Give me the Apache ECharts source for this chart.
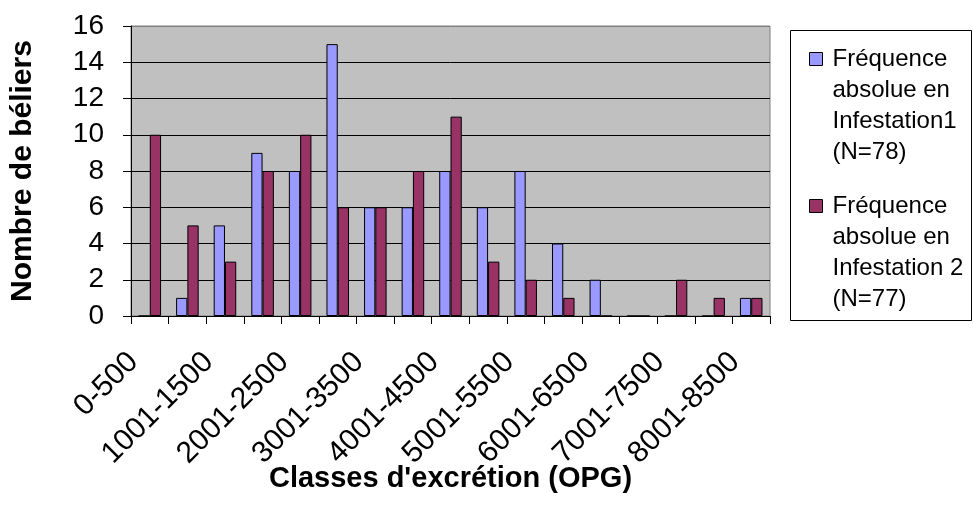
<!DOCTYPE html>
<html>
<head>
<meta charset="utf-8">
<script src="https://cdn.jsdelivr.net/npm/echarts@6/dist/echarts.min.js"></script>
<style>
  html, body { margin: 0; padding: 0; background: #fff; }
  #chart { width: 973px; height: 522px; }
</style>
</head>
<body>
<div id="chart"></div>
<script>
// classes d'excrétion (OPG)
const categories = [
  '0-500', '501-1000', '1001-1500', '1501-2000', '2001-2500', '2501-3000',
  '3001-3500', '3501-4000', '4001-4500', '4501-5000', '5001-5500', '5501-6000',
  '6001-6500', '6501-7000', '7001-7500', '7501-8000', '8001-8500'
]
const infestation1 = [0, 1, 5, 9, 8, 15, 6, 6, 8, 6, 8, 4, 2, 0, 0, 0, 1]
const infestation2 = [10, 5, 3, 8, 10, 6, 6, 8, 11, 3, 2, 1, 0, 0, 2, 1, 1]
const seriesNames = [
  'Fréquence\nabsolue en\nInfestation1\n(N=78)',
  'Fréquence\nabsolue en\nInfestation 2\n(N=77)'
]

const FONT = "'Liberation Sans', Arial, sans-serif"
const BLUE = '#9999ff'
const PLUM = '#993366'
const PLOT_BG = '#c0c0c0'
const BORDER_GRAY = '#808080'

// legend text is centred on the icon, so 3 blank lines on top put
// the first line level with the square
const legendBase = {
  orient: 'vertical', left: 809, padding: 0, itemWidth: 13, itemHeight: 13,
  icon: 'rect', selectedMode: false,
  formatter: (name) => '\n\n\n' + name,
  textStyle: { fontFamily: FONT, fontSize: 24, color: '#000', lineHeight: 31, padding: [0, 0, 0, 5] },
  itemStyle: { borderColor: '#000', borderWidth: 1 },
}

const chart = echarts.init(document.getElementById('chart'))
chart.setOption({
  animation: false,
  textStyle: { fontFamily: FONT },
  graphic: [{
    type: 'rect', z: -1,
    shape: { x: 790.5, y: 30.5, width: 181, height: 290 },
    style: { fill: '#fff', stroke: '#000', lineWidth: 1 },
  }],
  legend: [
    { ...legendBase, top: -49.5, data: [seriesNames[0]] },
    { ...legendBase, top: 97.5, data: [seriesNames[1]] },
  ],
  grid: {
    left: 129.5, top: 26, right: 203, bottom: 206,
    show: true, backgroundColor: PLOT_BG, borderColor: BORDER_GRAY, borderWidth: 1,
  },
  xAxis: {
    type: 'category',
    data: categories,
    name: "Classes d'excrétion (OPG)",
    nameLocation: 'middle',
    nameGap: 148,
    nameMoveOverlap: false,
    nameTextStyle: { fontFamily: FONT, fontSize: 29, fontWeight: 'bold', color: '#000' },
    axisLine: { lineStyle: { color: '#000', width: 1 } },
    axisTick: { show: true, interval: 0, length: 8, lineStyle: { color: '#000' } },
    axisLabel: {
      interval: 1, rotate: 45, margin: 25, padding: [0, 23, 0, 0],
      fontFamily: FONT, fontSize: 30, color: '#000',
    },
  },
  yAxis: {
    type: 'value',
    min: 0, max: 16, interval: 2,
    name: 'Nombre de béliers',
    nameLocation: 'middle',
    nameGap: 93,
    nameTextStyle: { fontFamily: FONT, fontSize: 30, fontWeight: 'bold', color: '#000' },
    axisLine: { show: true, lineStyle: { color: '#000', width: 1 } },
    axisTick: { show: true, length: 8, lineStyle: { color: '#000' } },
    axisLabel: { margin: 27, fontFamily: FONT, fontSize: 28, color: '#000' },
    splitLine: {
      lineStyle: {
        color: ['#000', '#000', '#000', '#000', '#000', '#000', '#000', '#000', BORDER_GRAY],
        width: 1,
      },
    },
  },
  series: [
    {
      name: seriesNames[0], type: 'bar', data: infestation1,
      barGap: '0%', barCategoryGap: '40%',
      itemStyle: { color: BLUE, borderColor: '#000', borderWidth: 1 },
    },
    {
      name: seriesNames[1], type: 'bar', data: infestation2,
      barGap: '0%', barCategoryGap: '40%',
      itemStyle: { color: PLUM, borderColor: '#000', borderWidth: 1 },
    },
  ],
})
</script>
</body>
</html>
